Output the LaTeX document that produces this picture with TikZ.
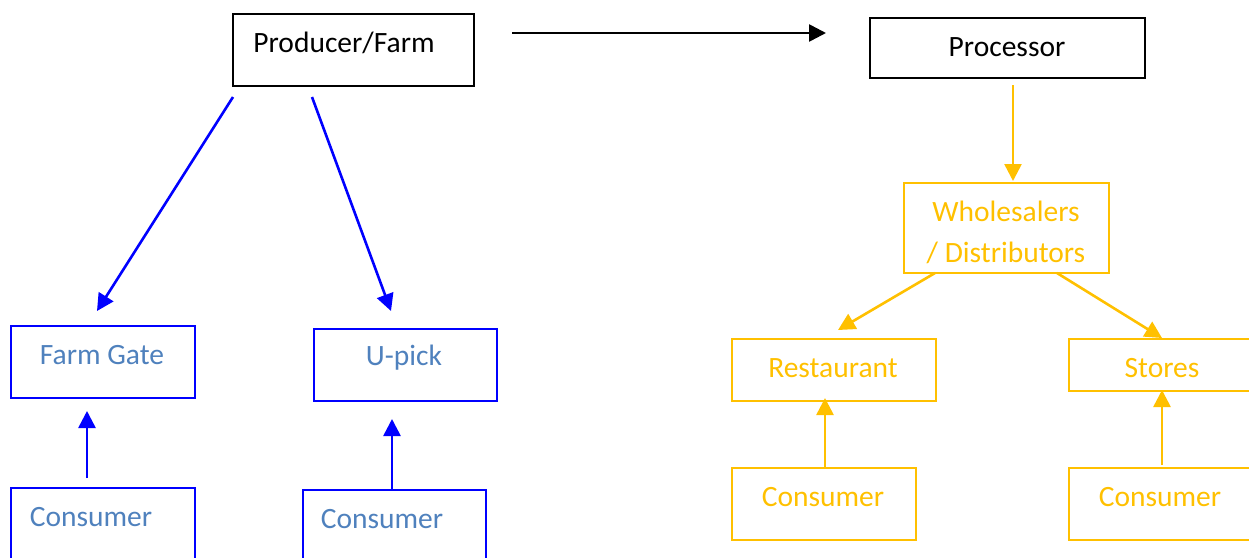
\documentclass[tikz,border=0pt]{standalone}
\usepackage{fontspec}
\setmainfont{Carlito}
\usetikzlibrary{arrows.meta}
\definecolor{bbox}{HTML}{0000FF}
\definecolor{btext}{HTML}{4F81BD}
\definecolor{ybox}{HTML}{FFC000}
\tikzset{
  box/.style={draw, line width=2.2pt, minimum width=#1, inner sep=0pt, anchor=north west},
  blk/.style={draw=black},
  blu/.style={draw=bbox},
  yel/.style={draw=ybox},
  lbl/.style={font=\fontsize{29.5}{34}\selectfont, inner sep=0pt, anchor=center},
  arr/.style={line width=2.6pt, -{Triangle[length=17pt,width=17pt]}},
}
\begin{document}
\begin{tikzpicture}[x=1pt,y=-1pt]
\useasboundingbox (0,0) rectangle (1249,557);
\clip (0,0) rectangle (1249,557);
% boxes
\node[box=241pt, blk, minimum height=72pt] (prod) at (232,13) {};
\node[box=275pt, blk, minimum height=60pt] (proc) at (869,17) {};
\node[box=205pt, yel, minimum height=90pt] (whol) at (903,182) {};
\node[box=184pt, blu, minimum height=72pt] (gate) at (10,325) {};
\node[box=183pt, blu, minimum height=72pt] (upick) at (313,328) {};
\node[box=184pt, blu, minimum height=90pt] (cons1) at (10,487) {};
\node[box=183pt, blu, minimum height=90pt] (cons2) at (302,489) {};
\node[box=204pt, yel, minimum height=62pt] (rest) at (731,338) {};
\node[box=200pt, yel, minimum height=52pt] (stor) at (1068,338) {};
\node[box=184pt, yel, minimum height=72pt] (cons3) at (731,467) {};
\node[box=200pt, yel, minimum height=72pt] (cons4) at (1068,467) {};
% labels
\node[lbl] (tprod) at (344,43) {Producer/Farm};
\node[lbl] (tproc) at (1007,47) {Processor};
\node[lbl, text=ybox] (twh1) at (1006,211) {Wholesalers};
\node[lbl, text=ybox] (twh2) at (1006,253) {/ Distributors};
\node[lbl, text=btext] (tgate) at (102,355) {Farm Gate};
\node[lbl, text=btext] (tupick) at (404,358) {U-pick};
\node[lbl, text=btext] (tcons1) at (91,517) {Consumer};
\node[lbl, text=btext] (tcons2) at (382,519) {Consumer};
\node[lbl, text=ybox] (trest) at (833,368) {Restaurant};
\node[lbl, text=ybox] (tstor) at (1162,368) {Stores};
\node[lbl, text=ybox] (tcons3) at (823,497) {Consumer};
\node[lbl, text=ybox] (tcons4) at (1160,497) {Consumer};
% connector end points
\coordinate (a1) at (512,33);  \coordinate (a2) at (826,33);
\coordinate (b1) at (233,97);  \coordinate (b2) at (97,311);
\coordinate (c1) at (312,97);  \coordinate (c2) at (391,311);
\coordinate (d1) at (87,478);  \coordinate (d2) at (87,411);
\coordinate (e1) at (392,489); \coordinate (e2) at (392,419);
\coordinate (f1) at (1013,85); \coordinate (f2) at (1013,181);
\coordinate (g1) at (935,273); \coordinate (g2) at (838,330);
\coordinate (h1) at (1057,273);\coordinate (h2) at (1162,338);
\coordinate (i1) at (825,467); \coordinate (i2) at (825,398);
\coordinate (j1) at (1162,465);\coordinate (j2) at (1162,390);
% connectors
\draw[arr, black] (a1) -- (a2);
\draw[arr, bbox] (b1) -- (b2);
\draw[arr, bbox] (c1) -- (c2);
\draw[arr, bbox] (d1) -- (d2);
\draw[arr, bbox] (e1) -- (e2);
\draw[arr, ybox] (f1) -- (f2);
\draw[arr, ybox] (g1) -- (g2);
\draw[arr, ybox] (h1) -- (h2);
\draw[arr, ybox] (i1) -- (i2);
\draw[arr, ybox] (j1) -- (j2);
\end{tikzpicture}
\end{document}
